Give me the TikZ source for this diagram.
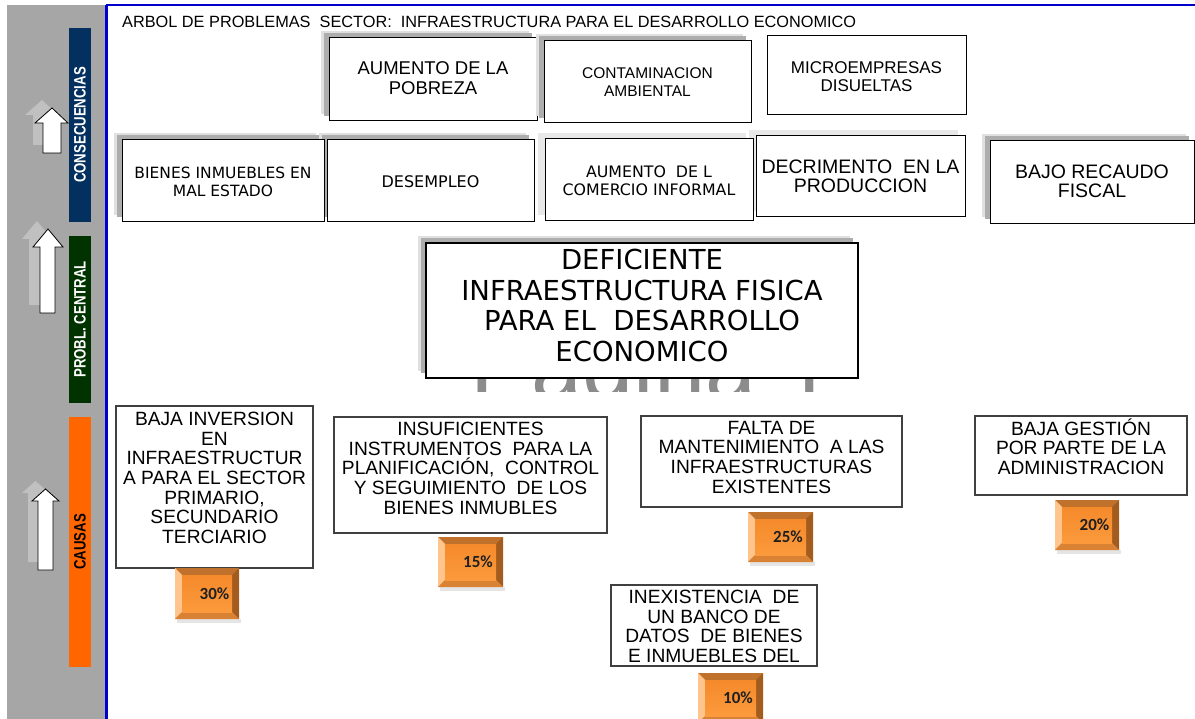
\documentclass[tikz,border=0pt]{standalone}
\usepackage{fontspec}
\setmainfont{Liberation Sans}
\newfontfamily\tahfont{DejaVu Sans}
\newfontfamily\narfont[FakeStretch=0.8]{Liberation Sans}
\newfontfamily\calfont{Carlito}
\definecolor{sidegray}{HTML}{A6A6A6}
\definecolor{navybar}{HTML}{03305E}
\definecolor{greenbar}{HTML}{013301}
\definecolor{orangebar}{HTML}{FF6600}
\definecolor{blueline}{HTML}{0000CC}
\definecolor{bevT}{HTML}{C0722C}
\definecolor{bevL}{HTML}{FFC58C}
\definecolor{bevR}{HTML}{A35C1E}
\definecolor{bevB}{HTML}{DA8234}
\definecolor{faceT}{HTML}{F58A2B}
\definecolor{faceB}{HTML}{FB9A3C}
\newcommand\mline[1]{\hbox to\hsize{\hss#1\hss}}
\newcommand\boxtext[5]{\parbox[c][#2pt][t]{#1pt}{#3\vspace*{#4pt}#5}}
\newcommand\pctbox[6]{%
  \fill[black!10] (#2+2,#5) rectangle (#4+2,#5+4);
  \fill[bevT] (#2,#3) rectangle (#4,#5);
  \fill[bevL] (#2,#3) -- (#2+7,#3+7) -- (#2+7,#5-7) -- (#2,#5) -- cycle;
  \fill[bevR] (#4,#3) -- (#4-7,#3+7) -- (#4-7,#5-7) -- (#4,#5) -- cycle;
  \fill[bevB] (#2,#5) -- (#2+7,#5-7) -- (#4-7,#5-7) -- (#4,#5) -- cycle;
  \shade[top color=faceT, bottom color=faceB] (#2+7,#3+7) rectangle (#4-7,#5-7);
  \node[pcttext] (#1) at ({(#2+#4)/2+7.5},{(#3+#5)/2}) {#6};
}
\tikzset{
  cbox/.style={draw=black, line width=1pt, fill=white, inner sep=0pt},
  causebox/.style={draw=black!75, line width=1.3pt, fill=white, inner sep=0pt},
  shad/.style={preaction={fill=black!12, transform canvas={xshift=-8pt,yshift=6.5pt}},
               preaction={fill=black!32, transform canvas={xshift=-5pt,yshift=4.5pt}}},
  lshad/.style={preaction={fill=black!9, transform canvas={xshift=-7pt,yshift=5.5pt}}},
  bar/.style={rotate=90, inner sep=0pt, font=\narfont\bfseries\fontsize{16.5}{18}\selectfont},
  uparrow/.style={fill=white, draw=black, line width=0.8pt},
  arrowshadow/.style={fill=white, opacity=0.3},
  pcttext/.style={inner sep=0pt, font=\calfont\bfseries\fontsize{17}{18}\selectfont, text=black!88}
}
\begin{document}
\begin{tikzpicture}[x=1pt,y=-1pt]
\useasboundingbox (0,0) rectangle (1195,719);
\fill[white] (0,0) rectangle (1195,719);
% sidebar
\fill[sidegray] (7,5) rectangle (105,719);
\draw[blueline, line width=2.5pt] (106.5,5) -- (106.5,719);
\draw[blueline, line width=1.3pt] (106,5) -- (1195,5);
\node[bar, fill=navybar, text=white, minimum width=194pt, minimum height=22pt] (cons) at (80,125) {CONSECUENCIAS};
\node[bar, fill=greenbar, text=white, minimum width=167pt, minimum height=22pt] (cent) at (80,319.5) {PROBL. CENTRAL};
\node[bar, fill=orangebar, text=black, minimum width=250pt, minimum height=22pt] (caus) at (80,542) {CAUSAS};
% arrows
\fill[arrowshadow, shift={(-10,-8)}] (52,108) -- (68,123) -- (61,123) -- (61,153) -- (43,153) -- (43,123) -- (35,123) -- cycle;
\draw[uparrow] (52,108) -- (68,123) -- (61,123) -- (61,153) -- (43,153) -- (43,123) -- (35,123) -- cycle;
\fill[arrowshadow, shift={(-11,-8)}] (48,229) -- (63,247) -- (55,247) -- (55,313) -- (40,313) -- (40,247) -- (33,247) -- cycle;
\draw[uparrow] (48,229) -- (63,247) -- (55,247) -- (55,313) -- (40,313) -- (40,247) -- (33,247) -- cycle;
\fill[arrowshadow, shift={(-10,-8)}] (45.5,489) -- (59,501) -- (53,501) -- (53,570) -- (38,570) -- (38,501) -- (32,501) -- cycle;
\draw[uparrow] (45.5,489) -- (59,501) -- (53,501) -- (53,570) -- (38,570) -- (38,501) -- (32,501) -- cycle;
% title
\node[anchor=base west, inner sep=0pt, font=\fontsize{16.3}{18}\selectfont] (title) at (122,28) {ARBOL DE PROBLEMAS\ \ SECTOR:\ \ INFRAESTRUCTURA PARA EL DESARROLLO ECONOMICO};
% watermark (only a strip is visible)
\begin{scope}
\clip (455,377) rectangle (845,392);
\node[anchor=base west, inner sep=0pt, font=\fontsize{92}{92}\selectfont, text=black!45] (wm) at (470,400) {\smash{Página 1}};
\end{scope}
% consequences
\node[cbox,shad] (pob) at (433,79.5) {\boxtext{208}{83}{\fontsize{18.5}{20}\selectfont}{24}{\mline{AUMENTO DE LA}\mline{POBREZA}}};
\node[cbox,shad] (cont) at (647.5,82) {\boxtext{207}{82}{\fontsize{15.5}{18}\selectfont}{26.5}{\mline{CONTAMINACION}\mline{AMBIENTAL}}};
\node[cbox] (micro) at (866.5,75.5) {\boxtext{199}{79}{\fontsize{17}{17.5}\selectfont}{26}{\mline{MICROEMPRESAS}\mline{DISUELTAS}}};
\node[cbox,shad] (bajo) at (1092,182.5) {\boxtext{204}{83}{\fontsize{19.5}{19}\selectfont}{24}{\mline{BAJO RECAUDO}\mline{FISCAL}}};
\node[cbox,lshad] (decr) at (860.5,176.5) {\boxtext{209}{81}{\fontsize{19.5}{19}\selectfont}{24}{\mline{DECRIMENTO\ \ EN LA}\mline{PRODUCCION}}};
\node[cbox,lshad] (aum) at (649,180) {\boxtext{208}{82}{\tahfont\fontsize{15.8}{18}\selectfont}{27}{\mline{AUMENTO\ \ DE L}\mline{COMERCIO INFORMAL}}};
\node[cbox,shad] (desem) at (430.5,181) {\boxtext{207}{82}{\tahfont\fontsize{16}{18}\selectfont}{36}{\mline{DESEMPLEO}}};
\node[cbox,shad] (bien) at (223,181) {\boxtext{202}{82}{\tahfont\fontsize{15.5}{18}\selectfont}{27}{\mline{BIENES INMUEBLES EN}\mline{MAL ESTADO}}};
% central problem
\node[cbox,shad,line width=1.2pt] (central) at (642,310.5) {\boxtext{432}{135}{\tahfont\fontsize{27.5}{30.6}\selectfont}{6}{\mline{DEFICIENTE}\mline{INFRAESTRUCTURA FISICA}\mline{PARA EL\ \ DESARROLLO}\mline{ECONOMICO}}};
% causes
\node[causebox] (c1) at (214.5,487) {\boxtext{197}{162}{\fontsize{19.2}{19.7}\selectfont}{6}{\mline{BAJA INVERSION}\mline{EN}\mline{INFRAESTRUCTUR}\mline{A PARA EL SECTOR}\mline{PRIMARIO,}\mline{SECUNDARIO}\mline{TERCIARIO}}};
\node[causebox] (c2) at (470.5,475) {\boxtext{273}{116}{\fontsize{19.2}{19.7}\selectfont}{5}{\mline{INSUFICIENTES}\mline{INSTRUMENTOS\ \ PARA LA}\mline{PLANIFICACIÓN,\ \ CONTROL}\mline{Y SEGUIMIENTO\ \ DE LOS}\mline{BIENES INMUBLES}}};
\node[causebox] (c3) at (771.5,461.5) {\boxtext{261}{91}{\fontsize{19.2}{19.7}\selectfont}{5}{\mline{FALTA DE}\mline{MANTENIMIENTO\ \ A LAS}\mline{INFRAESTRUCTURAS}\mline{EXISTENTES}}};
\node[causebox] (c4) at (1081,455.5) {\boxtext{212}{79}{\fontsize{19.2}{19.7}\selectfont}{2.5}{\mline{BAJA GESTIÓN}\mline{POR PARTE DE LA}\mline{ADMINISTRACION}}};
\node[causebox] (c5) at (714,625.5) {\boxtext{206}{81}{\fontsize{19.2}{19.7}\selectfont}{5}{\mline{INEXISTENCIA\ \ DE}\mline{UN BANCO DE}\mline{DATOS\ \ DE BIENES}\mline{E INMUEBLES DEL}}};
% percentages
\pctbox{p30}{175}{568}{239}{619}{30\%}
\pctbox{p15}{438}{537}{503}{587}{15\%}
\pctbox{p25}{748}{512}{813}{562}{25\%}
\pctbox{p20}{1055}{500}{1119}{550}{20\%}
\pctbox{p10}{698}{673}{763}{723}{10\%}
\end{tikzpicture}
\end{document}
